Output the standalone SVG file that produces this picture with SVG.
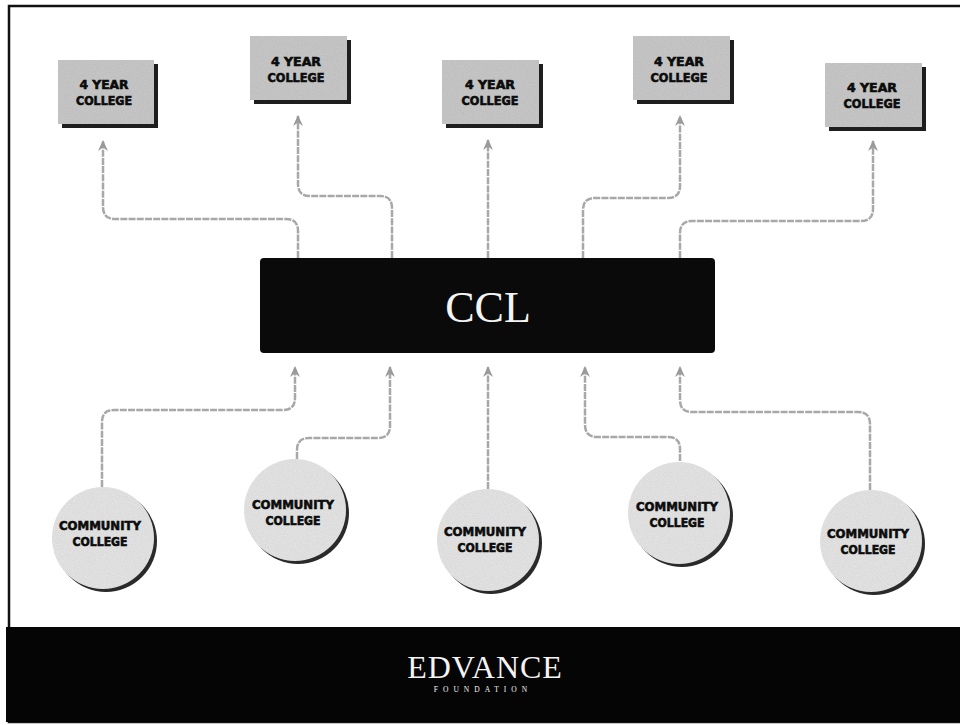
<svg xmlns="http://www.w3.org/2000/svg" width="960" height="725" viewBox="0 0 960 725">
  <defs>
    <style>
      .box { fill: #cbcbcb; }
      .boxsh { fill: #1e1e1e; }
      .circ { fill: #e8e8e8; }
      .circsh { fill: #2a2a2a; }
      .lbl { font-family: "DejaVu Sans Condensed", "DejaVu Sans", "Liberation Sans", sans-serif; font-weight: 900; font-size: 13px; fill: #0c0c0c; text-anchor: middle; stroke: #0c0c0c; stroke-width: 0.6; }
      .conn { fill: none; stroke: #a8a8a8; stroke-width: 2.5; stroke-dasharray: 7 1.2; marker-end: url(#arr); }
      .serif { font-family: "Liberation Serif", "DejaVu Serif", serif; fill: #f4f4f4; text-anchor: middle; }
    </style>
    <marker id="arr" viewBox="0 0 10 10" refX="9" refY="5" markerWidth="11" markerHeight="11" markerUnits="userSpaceOnUse" orient="auto">
      <path d="M0,0.5 L10,5 L0,9.5 L3,5 z" fill="#9a9a9a"/>
    </marker>
    <filter id="grain" x="0" y="0" width="100%" height="100%">
      <feTurbulence type="fractalNoise" baseFrequency="0.9" numOctaves="2" seed="3" result="n"/>
      <feColorMatrix in="n" type="matrix" values="0 0 0 0 0  0 0 0 0 0  0 0 0 0 0  0 0 0 0.18 0" result="g"/>
      <feComposite in="g" in2="SourceGraphic" operator="in" result="gm"/>
      <feMerge><feMergeNode in="SourceGraphic"/><feMergeNode in="gm"/></feMerge>
    </filter>
  </defs>

  <rect x="0" y="0" width="960" height="725" fill="#ffffff"/>
  <rect x="9" y="6" width="960" height="716" fill="none" stroke="#111" stroke-width="2.5"/>

  <g id="connectors">
    <path class="conn" d="M298,258 V231 Q298,219 286,219 H115 Q103,219 103,207 V141"/>
    <path class="conn" d="M392,258 V208 Q392,196 380,196 H310 Q298,196 298,184 V116"/>
    <path class="conn" d="M488,258 V140"/>
    <path class="conn" d="M583,258 V210 Q583,198 595,198 H668 Q680,198 680,186 V116"/>
    <path class="conn" d="M680,258 V233 Q680,221 692,221 H861 Q873,221 873,209 V141"/>
    <path class="conn" d="M102,487 V422 Q102,410 114,410 H283 Q295,410 295,398 V367"/>
    <path class="conn" d="M297,459 V450 Q297,438 309,438 H378 Q390,438 390,426 V367"/>
    <path class="conn" d="M488,489 V367"/>
    <path class="conn" d="M680,461 V449 Q680,437 668,437 H597 Q585,437 585,425 V367"/>
    <path class="conn" d="M870,490 V424 Q870,412 858,412 H692 Q680,412 680,400 V367"/>
  </g>

  <g id="college1">
    <rect class="boxsh" x="62" y="64" width="96" height="64"/>
    <rect class="box" x="58" y="60" width="96" height="64" filter="url(#grain)"/>
    <text class="lbl" x="104" y="89" textLength="49" lengthAdjust="spacingAndGlyphs">4 YEAR</text>
    <text class="lbl" x="104" y="105" textLength="56" lengthAdjust="spacingAndGlyphs">COLLEGE</text>
  </g>
  <g id="college2">
    <rect class="boxsh" x="254" y="40" width="97" height="64"/>
    <rect class="box" x="250" y="36" width="97" height="64" filter="url(#grain)"/>
    <text class="lbl" x="296" y="66" textLength="50" lengthAdjust="spacingAndGlyphs">4 YEAR</text>
    <text class="lbl" x="296" y="82" textLength="57" lengthAdjust="spacingAndGlyphs">COLLEGE</text>
  </g>
  <g id="college3">
    <rect class="boxsh" x="446" y="64" width="97" height="64"/>
    <rect class="box" x="442" y="60" width="97" height="64" filter="url(#grain)"/>
    <text class="lbl" x="490" y="89" textLength="50" lengthAdjust="spacingAndGlyphs">4 YEAR</text>
    <text class="lbl" x="490" y="105" textLength="57" lengthAdjust="spacingAndGlyphs">COLLEGE</text>
  </g>
  <g id="college4">
    <rect class="boxsh" x="637" y="40" width="97" height="64"/>
    <rect class="box" x="633" y="36" width="97" height="64" filter="url(#grain)"/>
    <text class="lbl" x="679" y="66" textLength="50" lengthAdjust="spacingAndGlyphs">4 YEAR</text>
    <text class="lbl" x="679" y="82" textLength="57" lengthAdjust="spacingAndGlyphs">COLLEGE</text>
  </g>
  <g id="college5">
    <rect class="boxsh" x="829" y="67" width="97" height="64"/>
    <rect class="box" x="825" y="63" width="97" height="64" filter="url(#grain)"/>
    <text class="lbl" x="872" y="92" textLength="50" lengthAdjust="spacingAndGlyphs">4 YEAR</text>
    <text class="lbl" x="872" y="108" textLength="57" lengthAdjust="spacingAndGlyphs">COLLEGE</text>
  </g>

  <g id="ccl">
    <rect x="260" y="258" width="455" height="95" rx="4" fill="#0a0a0a"/>
    <text class="serif" x="488" y="322" font-size="44">CCL</text>
  </g>

  <g id="cc1">
    <circle class="circsh" cx="106" cy="541" r="51"/>
    <circle class="circ" cx="103" cy="538" r="51" filter="url(#grain)"/>
    <text class="lbl" x="100" y="530" textLength="82" lengthAdjust="spacingAndGlyphs">COMMUNITY</text>
    <text class="lbl" x="100" y="546" textLength="55" lengthAdjust="spacingAndGlyphs">COLLEGE</text>
  </g>
  <g id="cc2">
    <circle class="circsh" cx="298" cy="513" r="51"/>
    <circle class="circ" cx="295" cy="510" r="51" filter="url(#grain)"/>
    <text class="lbl" x="293" y="509" textLength="82" lengthAdjust="spacingAndGlyphs">COMMUNITY</text>
    <text class="lbl" x="293" y="525" textLength="55" lengthAdjust="spacingAndGlyphs">COLLEGE</text>
  </g>
  <g id="cc3">
    <circle class="circsh" cx="491" cy="543" r="51"/>
    <circle class="circ" cx="488" cy="540" r="51" filter="url(#grain)"/>
    <text class="lbl" x="485" y="536" textLength="82" lengthAdjust="spacingAndGlyphs">COMMUNITY</text>
    <text class="lbl" x="485" y="552" textLength="55" lengthAdjust="spacingAndGlyphs">COLLEGE</text>
  </g>
  <g id="cc4">
    <circle class="circsh" cx="682" cy="516" r="51"/>
    <circle class="circ" cx="679" cy="513" r="51" filter="url(#grain)"/>
    <text class="lbl" x="677" y="511" textLength="82" lengthAdjust="spacingAndGlyphs">COMMUNITY</text>
    <text class="lbl" x="677" y="527" textLength="55" lengthAdjust="spacingAndGlyphs">COLLEGE</text>
  </g>
  <g id="cc5">
    <circle class="circsh" cx="874" cy="544" r="51"/>
    <circle class="circ" cx="871" cy="541" r="51" filter="url(#grain)"/>
    <text class="lbl" x="868" y="538" textLength="82" lengthAdjust="spacingAndGlyphs">COMMUNITY</text>
    <text class="lbl" x="868" y="554" textLength="55" lengthAdjust="spacingAndGlyphs">COLLEGE</text>
  </g>

  <g id="footer">
    <rect x="6" y="627" width="954" height="95" fill="#050505"/>
    <text class="serif" x="485" y="678" font-size="32" letter-spacing="1">EDVANCE</text>
    <text class="serif" x="483" y="692" font-size="7.5" letter-spacing="5" fill="#bbbbbb">FOUNDATION</text>
  </g>
</svg>
